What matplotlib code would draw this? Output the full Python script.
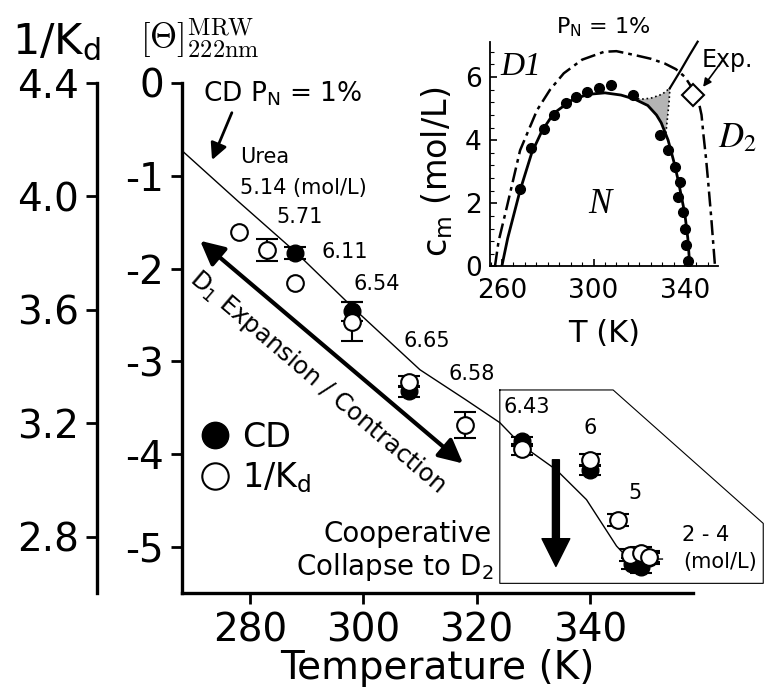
import numpy as np
import matplotlib.pyplot as plt
from matplotlib.lines import Line2D

plt.rcParams['font.family'] = ['DejaVu Sans']
plt.rcParams['axes.unicode_minus'] = False

W, H = 764, 698

# ---- main panel data ----
temp_cd = [288, 298, 308, 328, 340, 347.5, 349, 350.5]
cd = [-1.83, -2.46, -3.32, -3.86, -4.17, -5.18, -5.22, -5.12]
cd_err = [0.065, 0.10, 0.06, 0.05, 0.05, 0.06, 0.06, 0.06]

temp_kd = [278, 283, 288, 298, 308, 318, 328, 340, 345, 347, 349, 350.5]
inv_kd = [3.876, 3.811, 3.694, 3.559, 3.347, 3.195, 3.109, 3.071, 2.860, 2.737, 2.743, 2.731]
inv_kd_err = [0, 0.038, 0, 0.07, 0.02, 0.047, 0.02, 0.02, 0.02, 0.02, 0.02, 0.02]

# simulated CD curve
sim_T = [268.2, 278, 288.2, 298.5, 310, 318, 324.1, 327.9, 334.1, 339.4, 344.7, 346.4, 349, 352.8]
sim_cd = [-0.74, -1.28, -1.83, -2.44, -3.09, -3.41, -3.66, -3.90, -4.17, -4.49, -4.99, -5.10, -5.13, -5.13]

# urea concentration labels (mol/L)
urea_T = [288.8, 296.8, 302.4, 311.2, 319.2, 328.9, 340.0, 347.9]
urea_cd = [-1.44, -1.82, -2.17, -2.78, -3.14, -3.49, -3.72, -4.42]
urea_txt = ['5.71', '6.11', '6.54', '6.65', '6.58', '6.43', '6', '5']

# ---- inset data ----
dots_T = [267.9, 272.8, 278.2, 282.6, 287.8, 292.2, 297.3, 302.4, 307.6, 317.1,
          328.9, 332.6, 335.6, 337.7, 337.0, 339.2, 339.9, 340.6, 341.4]
dots_cm = [2.47, 3.74, 4.37, 4.79, 5.17, 5.37, 5.53, 5.64, 5.75, 5.43,
           4.16, 3.68, 3.15, 2.68, 2.20, 1.72, 1.20, 0.67, 0.19]

solid_T = [259.9, 262.5, 267.9, 273, 277.5, 282.6, 290, 297.3, 305, 312, 318,
           323.7, 327.5, 329.6, 332.6, 335, 337, 339.9, 341.2, 342.1]
solid_cm = [0, 0.9, 2.41, 3.6, 4.3, 4.85, 5.25, 5.45, 5.5, 5.43, 5.3,
            5.1, 4.8, 4.55, 4.0, 3.35, 2.73, 1.67, 0.9, 0.0]

upper_T = [333.3, 338, 342, 345.5]
upper_cm = [5.64, 6.2, 6.7, 7.12]

dd_T = [256.9, 258.5, 262.1, 267.9, 275.3, 281, 287, 295, 304.6, 310, 317.8,
        325, 331.1, 336, 340, 343.5, 345.8, 347.2, 348, 349.2, 350.2, 351.5, 353.1]
dd_cm = [0, 0.8, 1.88, 3.68, 4.95, 5.6, 6.12, 6.55, 6.8, 6.82, 6.7,
         6.58, 6.43, 6.25, 6.0, 5.6, 5.27, 4.8, 4.2, 3.4, 2.6, 1.5, 0]

gray_T = [317.4, 321, 325, 329, 331.5, 333.4, 333.0, 332.3, 331.6, 329.6, 327.5, 323.7, 320]
gray_cm = [5.33, 5.30, 5.33, 5.43, 5.53, 5.67, 5.2, 4.7, 4.2, 4.55, 4.8, 5.1, 5.25]

exp_T, exp_cm = 343.6, 5.43

fig = plt.figure(figsize=(W / 100, H / 100), dpi=100)

# main axes (CD)
ax = fig.add_axes([182 / W, 1 - 593 / H, (693 - 182) / W, (593 - 83) / H])
ax.set_xlim(268.0, 358.2)
ax.set_ylim(-5.496, 0)
for s in ['top', 'right']:
    ax.spines[s].set_visible(False)
for s in ['left', 'bottom']:
    ax.spines[s].set_linewidth(2.4)
ax.set_xticks([280, 300, 320, 340])
ax.set_yticks([0, -1, -2, -3, -4, -5])
ax.set_yticklabels(['0', '-1', '-2', '-3', '-4', '-5'])
ax.tick_params(direction='out', length=8, width=2, labelsize=28, pad=5)
ax.set_xlabel('Temperature (K)', fontsize=28, labelpad=0)

# twin axis for 1/Kd
ax2 = ax.twinx()
ax2.set_ylim(2.6026, 4.4)
for s in ['top', 'right', 'bottom']:
    ax2.spines[s].set_visible(False)
ax2.spines['left'].set_visible(True)
ax2.spines['left'].set_position(('outward', 85 * 0.72))
ax2.spines['left'].set_linewidth(2.4)
ax2.yaxis.tick_left()
ax2.set_yticks([2.8, 3.2, 3.6, 4.0, 4.4])
ax2.set_yticklabels(['2.8', '3.2', '3.6', '4.0', '4.4'])
ax2.tick_params(direction='out', length=8, width=2, labelsize=28, pad=5)

# simulation line
ax.plot(sim_T, sim_cd, color='k', lw=1.0)

# CD data
ax.errorbar(temp_cd, cd, yerr=cd_err, fmt='o', color='k', ms=12,
            capsize=8, elinewidth=1.5, capthick=1.5)

# 1/Kd data
tk = np.array(temp_kd)
ik = np.array(inv_kd)
ie = np.array(inv_kd_err)
m = ie > 0
ax2.errorbar(tk[m], ik[m], yerr=ie[m], fmt='none', ecolor='k',
             capsize=8, elinewidth=1.5, capthick=1.5, zorder=2)
ax2.plot(tk, ik, 'o', mfc='white', mec='k', ms=12, mew=1.5, zorder=3)

# texts in main panel
ax.text(271.7, -0.12, 'CD P$_\\mathrm{N}$ = 1%', fontsize=19, va='center')
ax.annotate('', xy=(273.3, -0.83), xytext=(276.8, -0.32),
            arrowprops=dict(arrowstyle='-|>', lw=2, color='k', mutation_scale=25,
                            shrinkA=0, shrinkB=0))
ax.text(278.2, -0.80, 'Urea', fontsize=15, va='center')
ax.text(278.2, -1.13, '5.14 (mol/L)', fontsize=15, va='center')
for t, c, s in zip(urea_T, urea_cd, urea_txt):
    ax.text(t, c, s, fontsize=15, ha='center', va='center')
ax.text(360.4, -4.87, '2 - 4', fontsize=15, ha='center', va='center')
ax.text(362.9, -5.16, '(mol/L)', fontsize=15, ha='center', va='center')
ax.text(322.7, -4.86, 'Cooperative', fontsize=20, ha='right', va='center')
ax.text(322.9, -5.22, 'Collapse to D$_2$', fontsize=20, ha='right', va='center')

ax.annotate('', xy=(317.6, -4.10), xytext=(271.2, -1.70),
            arrowprops=dict(arrowstyle='<|-|>', lw=3, color='k', mutation_scale=36,
                            shrinkA=0, shrinkB=0))
ax.text(291.9, -3.22, 'D$_1$ Expansion / Contraction', fontsize=17.5,
        rotation=-40.5, rotation_mode='anchor', ha='center', va='center')

ax.annotate('', xy=(334.0, -5.21), xytext=(334.0, -4.06),
            arrowprops=dict(width=5, headwidth=20, headlength=20, color='k', shrink=0))

box_T = [324.1, 344.1, 370.6, 370.6, 324.1, 324.1]
box_cd = [-3.308, -3.308, -4.746, -5.392, -5.392, -3.308]
ax.plot(box_T, box_cd, color='k', lw=0.8, clip_on=False)

handles = [Line2D([], [], marker='o', ls='none', mfc='k', mec='k', ms=19),
           Line2D([], [], marker='o', ls='none', mfc='white', mec='k', ms=19, mew=1.5)]
ax.legend(handles, ['CD', '1/K$_\\mathrm{d}$'], loc='upper left',
          bbox_to_anchor=(200 / W, 1 - 421 / H), bbox_transform=fig.transFigure,
          frameon=False, fontsize=24, handlelength=0.9, handletextpad=0.35,
          labelspacing=0.2, borderpad=0, borderaxespad=0)

# axis header labels
fig.text(12 / W, 1 - 42 / H, '1/K$_\\mathrm{d}$', fontsize=31, va='center', ha='left')
fig.text(140 / W, 1 - 38 / H, r'$[\Theta]^{\mathrm{MRW}}_{222\mathrm{nm}}$',
         fontsize=25, math_fontfamily='cm', va='center', ha='left')

# ---- inset ----
axi = fig.add_axes([490 / W, 1 - 266.5 / H, 228 / W, 224.8 / H])
axi.patch.set_visible(False)
axi.set_xlim(254.75, 354.4)
axi.set_ylim(0, 7.12)
for s in ['top', 'right']:
    axi.spines[s].set_visible(False)
for s in ['left', 'bottom']:
    axi.spines[s].set_linewidth(1.3)
axi.set_xticks([260, 300, 340])
axi.set_yticks([0, 2, 4, 6])
axi.set_xticks(np.arange(255, 355, 5), minor=True)
axi.set_yticks(np.arange(0, 7.1, 0.4), minor=True)
axi.tick_params(which='both', direction='in', labelsize=19)
axi.tick_params(axis='x', which='both', pad=8)
axi.tick_params(axis='y', which='both', pad=6)
axi.tick_params(which='major', length=5, width=1.2)
axi.tick_params(which='minor', length=3, width=0.8)
axi.set_xlabel('T (K)', fontsize=22)
axi.xaxis.set_label_coords(0.5, -0.235)
axi.set_ylabel('c$_\\mathrm{m}$ (mol/L)', fontsize=24)
axi.yaxis.set_label_coords(-(490 - 455) / 228, 0.42)

axi.fill(gray_T, gray_cm, color='#b4b4b4', lw=0)
axi.plot(gray_T[:6], gray_cm[:6], color='k', lw=1.2, ls=':')
axi.plot(gray_T[5:9], gray_cm[5:9], color='k', lw=1.2, ls=':')
axi.plot(dd_T, dd_cm, color='k', lw=1.8, ls=(0, (6, 2, 1.5, 2)), clip_on=False)
axi.plot(solid_T, solid_cm, color='k', lw=2)
axi.plot(upper_T, upper_cm, color='k', lw=1.6, clip_on=False)
axi.plot(dots_T, dots_cm, 'o', color='k', ms=7)
axi.plot([exp_T], [exp_cm], marker='D', mfc='white', mec='k', ms=11, mew=1.5)

axi.text(268.3, 6.32, 'D1', fontsize=24, family='Liberation Serif', style='italic',
         ha='center', va='center')
axi.text(362.7, 4.10, '$D_2$', fontsize=25, math_fontfamily='stix', ha='center', va='center')
axi.text(302.8, 1.95, 'N', fontsize=25, family='Liberation Serif', style='italic',
         ha='center', va='center')
axi.text(347.4, 6.54, 'Exp.', fontsize=17, va='center')
axi.annotate('', xy=(347.9, 5.69), xytext=(354.4, 6.33),
             arrowprops=dict(arrowstyle='-|>', lw=1.2, color='k', mutation_scale=12,
                             shrinkA=0, shrinkB=0))
axi.text(304.2, 7.58, 'P$_\\mathrm{N}$ = 1%', fontsize=16, ha='center', va='center')

fig.savefig('out.png', dpi=100)
